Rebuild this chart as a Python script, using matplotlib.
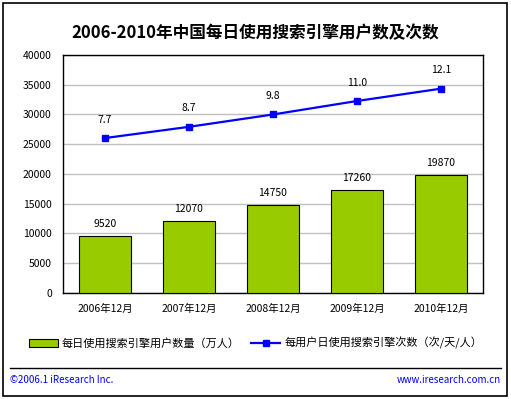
import matplotlib
matplotlib.use("Agg")
import matplotlib.pyplot as plt
from matplotlib.patches import Rectangle
from matplotlib.lines import Line2D

plt.rcParams['font.family'] = ['Noto Sans CJK SC', 'DejaVu Sans']

years = ["2006年12月", "2007年12月", "2008年12月", "2009年12月", "2010年12月"]
users = [9520, 12070, 14750, 17260, 19870]
times = [7.7, 8.7, 9.8, 11.0, 12.1]
yticks = [0, 5000, 10000, 15000, 20000, 25000, 30000, 35000, 40000]

green = "#99CC00"
blue = "#0000FF"

fig = plt.figure(figsize=(5.11, 3.99), dpi=100)
ax = fig.add_axes([0.1233, 0.2657, 0.8217, 0.5965])

x = list(range(len(years)))
ax.bar(x, users, width=0.61, color=green, edgecolor="black", linewidth=0.8, zorder=3)
for xi, v in zip(x, users):
    ax.text(xi, v + 1200, str(v), ha="center", va="bottom", fontsize=7.5)

ax.set_ylim(0, 40000)
ax.set_xlim(-0.5, len(years) - 0.5)
ax.set_yticks(yticks)
ax.set_yticklabels([str(t) for t in yticks], fontsize=7.5)
ax.set_xticks(x)
ax.set_xticklabels(years, fontsize=7.5)
ax.tick_params(length=0, pad=8)
ax.yaxis.grid(True, color="#C0C0C0", linewidth=1, zorder=0)
ax.set_axisbelow(True)
for s in ax.spines.values():
    s.set_linewidth(1)

ax2 = ax.twinx()
ax2.plot(x, times, color=blue, linewidth=1.6, marker="s", markersize=5, zorder=4)
ax2.set_ylim(-6.1, 15.1)
ax2.set_yticks([])
for s in ax2.spines.values():
    s.set_visible(False)
for xi, v in zip(x, times):
    ax2.text(xi, v + 1.2, f"{v:.1f}", ha="center", va="bottom", fontsize=7.5)

fig.text(0.5, 0.918, "2006-2010年中国每日使用搜索引擎用户数及次数", ha="center", va="center",
         fontsize=12, fontweight="bold")

handles = [Rectangle((0, 0), 1, 1, facecolor=green, edgecolor="black", linewidth=0.8),
           Line2D([0], [0], color=blue, linewidth=1.6, marker="s", markersize=4)]
labels = ["每日使用搜索引擎用户数量（万人）", "每用户日使用搜索引擎次数（次/天/人）"]
fig.legend(handles, labels, loc="center", bbox_to_anchor=(0.5, 0.14), ncol=2, frameon=False,
           fontsize=8, handlelength=2.6, columnspacing=1.0, handletextpad=0.4)

fig.add_artist(Line2D([0.02, 0.98], [0.078, 0.078], color="black", linewidth=1))
fig.text(0.02, 0.047, "©2006.1 iResearch Inc.", color=blue, fontsize=7, va="center")
fig.text(0.98, 0.047, "www.iresearch.com.cn", color=blue, fontsize=7, va="center", ha="right")

fig.add_artist(Rectangle((0.006, 0.008), 0.986, 0.984, fill=False, edgecolor="black",
                         linewidth=1.2, transform=fig.transFigure))

fig.savefig("out.png", dpi=100)
